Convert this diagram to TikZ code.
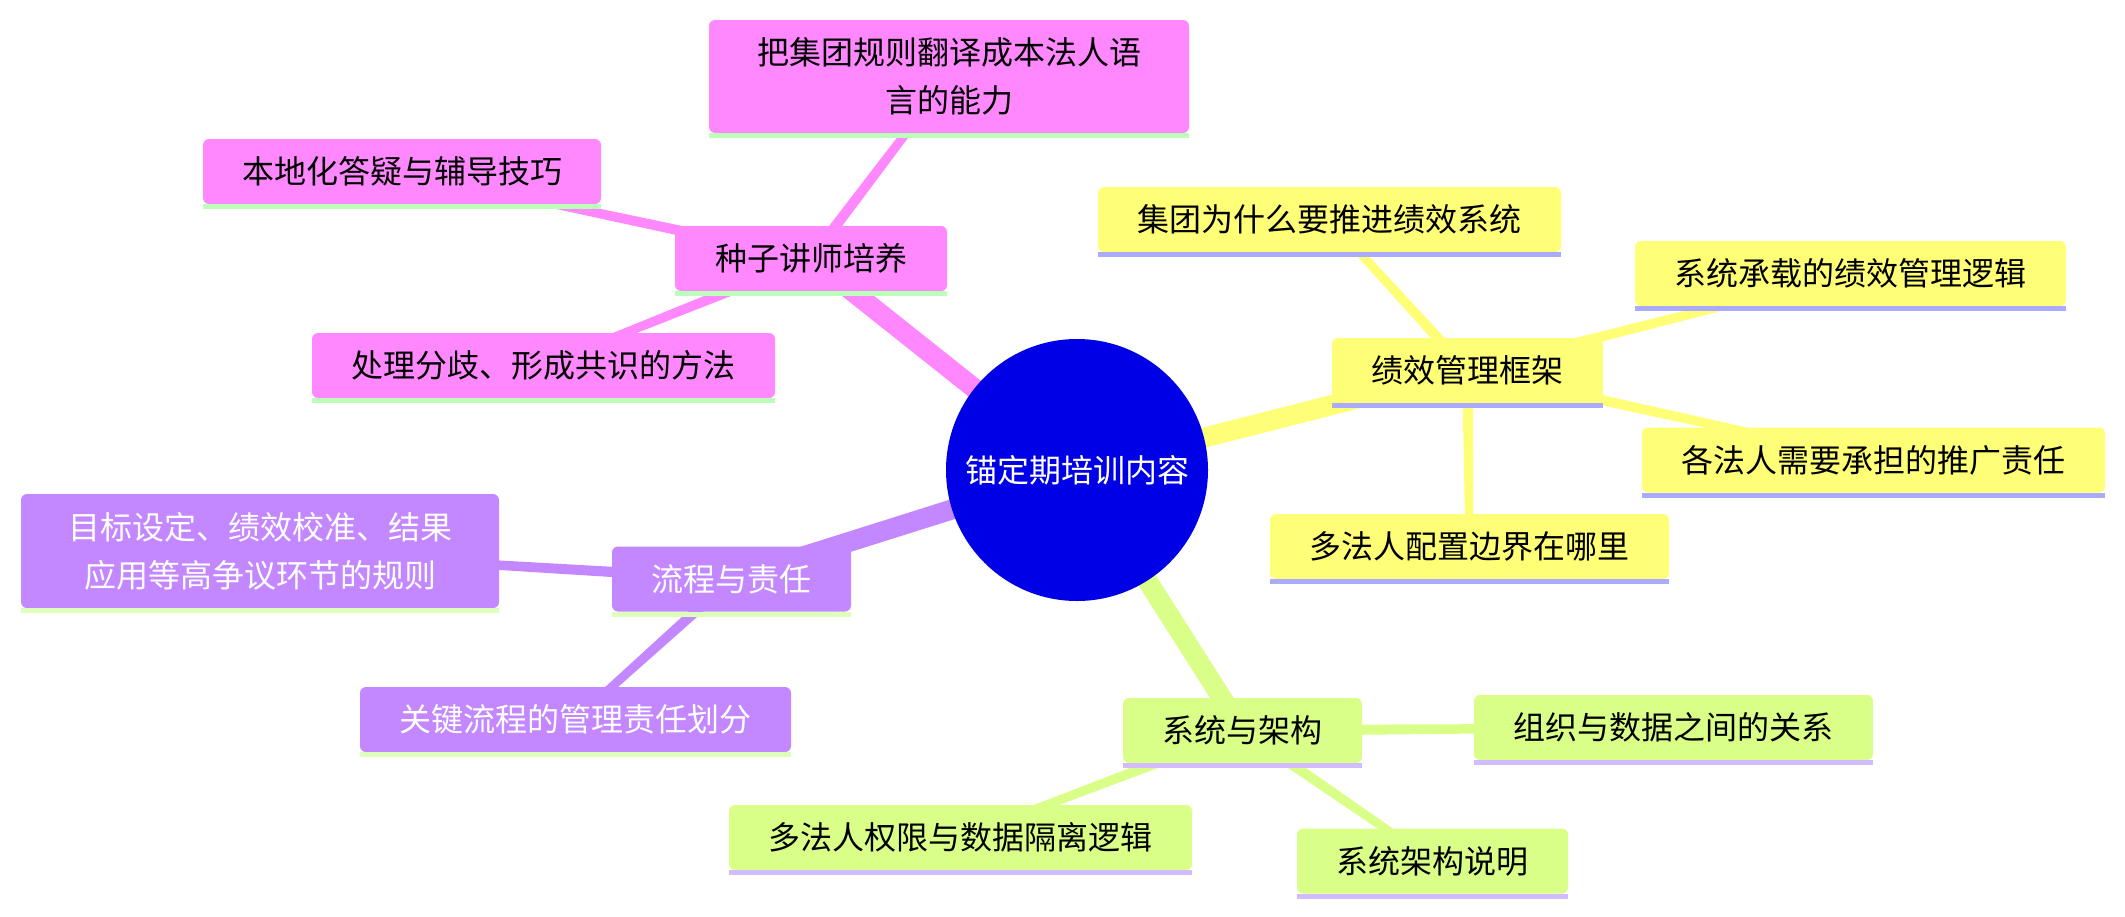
\documentclass[tikz,border=0pt]{standalone}
\usepackage{fontspec}
\setmainfont{Noto Sans CJK SC}
\usetikzlibrary{calc,backgrounds}
\definecolor{pinkc}{HTML}{FF88FF}
\definecolor{pinkul}{HTML}{BBFFBB}
\definecolor{yelc}{HTML}{FFFF77}
\definecolor{yelul}{HTML}{AAAAFF}
\definecolor{purc}{HTML}{C388FF}
\definecolor{purul}{HTML}{DDFFBB}
\definecolor{limec}{HTML}{DAFF88}
\definecolor{limeul}{HTML}{D3BBFF}
\definecolor{hubc}{HTML}{0000E6}
\tikzset{
  box/.style={rectangle, rounded corners=6pt, inner sep=0pt, minimum height=65pt,
    font=\fontsize{32}{48}\selectfont, align=center},
  pk/.style={box, fill=pinkc, text=black},
  yl/.style={box, fill=yelc, text=black},
  pu/.style={box, fill=purc, text=white},
  lm/.style={box, fill=limec, text=black},
  hub/.style={circle, fill=hubc, text=white, minimum size=262pt, inner sep=0pt,
    font=\fontsize{32}{48}\selectfont},
}
\newcommand\mmbranch[5]{\fill[#1] ($(#2)!#4!90:(#3)$) -- ($(#3)!#5!-90:(#2)$) -- ($(#3)!#5!90:(#2)$) -- ($(#2)!#4!-90:(#3)$) -- cycle;}
\newcommand\mmul[2]{\fill[#2] (#1.south west) rectangle ([yshift=-5pt]#1.south east);}
\begin{document}
\begin{tikzpicture}[x=1pt,y=-1pt]
\useasboundingbox (0,0) rectangle (2125,916);
\node[hub] (c) at (1077,470) {锚定期培训内容};
% pink branch
\node[pk, minimum width=272pt] (zz) at (811,258.5) {种子讲师培养};
\node[pk, minimum width=480pt, minimum height=113pt] (p1) at (949,76.5) {把集团规则翻译成本法人语\\言的能力};
\node[pk, minimum width=398pt] (p2) at (402,171.5) {本地化答疑与辅导技巧};
\node[pk, minimum width=463pt] (p3) at (543.5,365.5) {处理分歧、形成共识的方法};
% yellow branch
\node[yl, minimum width=271pt] (jx) at (1467.5,370.5) {绩效管理框架};
\node[yl, minimum width=463pt] (y1) at (1329.5,219.5) {集团为什么要推进绩效系统};
\node[yl, minimum width=431pt] (y2) at (1850.5,273.5) {系统承载的绩效管理逻辑};
\node[yl, minimum width=463pt] (y3) at (1873.5,460) {各法人需要承担的推广责任};
\node[yl, minimum width=399pt] (y4) at (1469.5,546.5) {多法人配置边界在哪里};
% purple branch
\node[pu, minimum width=239pt] (lc) at (731.5,579) {流程与责任};
\node[pu, minimum width=478pt, minimum height=114pt] (u1) at (260,551) {目标设定、绩效校准、结果\\应用等高争议环节的规则};
\node[pu, minimum width=431pt] (u2) at (575.5,719.5) {关键流程的管理责任划分};
% lime branch
\node[lm, minimum width=239pt] (xt) at (1242.5,730.5) {系统与架构};
\node[lm, minimum width=399pt] (l1) at (1673.5,727.5) {组织与数据之间的关系};
\node[lm, minimum width=463pt] (l2) at (960.5,837.5) {多法人权限与数据隔离逻辑};
\node[lm, minimum width=271pt] (l3) at (1432.5,861) {系统架构说明};
% underlines
\mmul{zz}{pinkul}\mmul{p1}{pinkul}\mmul{p2}{pinkul}\mmul{p3}{pinkul}
\mmul{jx}{yelul}\mmul{y1}{yelul}\mmul{y2}{yelul}\mmul{y3}{yelul}\mmul{y4}{yelul}
\mmul{lc}{purul}\mmul{u1}{purul}\mmul{u2}{purul}
\mmul{xt}{limeul}\mmul{l1}{limeul}\mmul{l2}{limeul}\mmul{l3}{limeul}
\begin{pgfonlayer}{background}
  \mmbranch{pinkc}{c}{zz}{10pt}{10pt}
  \mmbranch{yelc}{c}{jx}{10pt}{10pt}
  \mmbranch{purc}{c}{lc}{10pt}{10pt}
  \mmbranch{limec}{c}{xt}{10pt}{10pt}
  \mmbranch{pinkc}{zz}{p1}{5.5pt}{4pt}
  \mmbranch{pinkc}{zz}{p2}{5.5pt}{4pt}
  \mmbranch{pinkc}{zz}{p3}{5.5pt}{4pt}
  \mmbranch{yelc}{jx}{y1}{5.5pt}{4pt}
  \mmbranch{yelc}{jx}{y2}{5.5pt}{4pt}
  \mmbranch{yelc}{jx}{y3}{5.5pt}{4pt}
  \mmbranch{yelc}{jx}{y4}{5.5pt}{4pt}
  \mmbranch{purc}{lc}{u1}{5.5pt}{4pt}
  \mmbranch{purc}{lc}{u2}{5.5pt}{4pt}
  \mmbranch{limec}{xt}{l1}{5.5pt}{4pt}
  \mmbranch{limec}{xt}{l2}{5.5pt}{4pt}
  \mmbranch{limec}{xt}{l3}{5.5pt}{4pt}
\end{pgfonlayer}
\end{tikzpicture}
\end{document}
